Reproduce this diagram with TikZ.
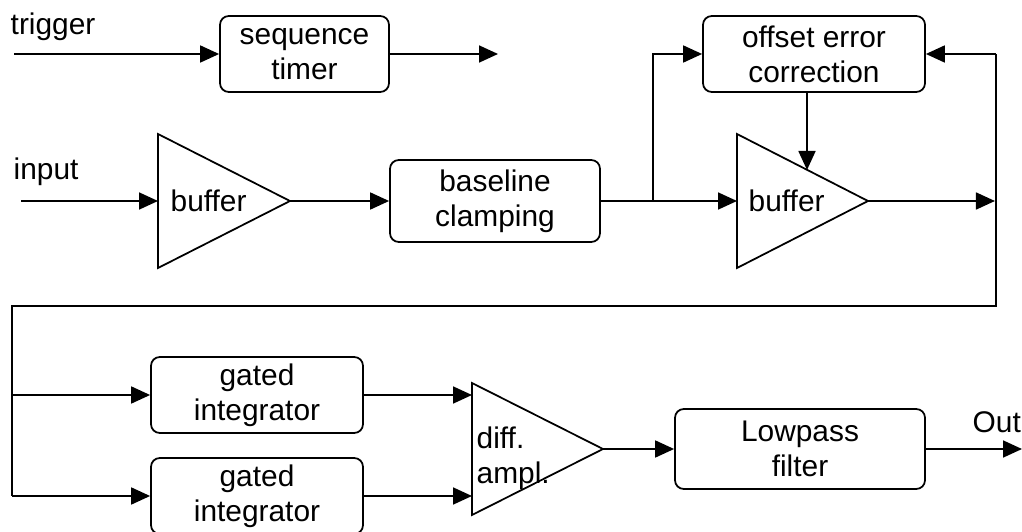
\documentclass[tikz,border=0pt]{standalone}
\usepackage{fontspec}
\setmainfont{Liberation Sans}
\usetikzlibrary{arrows.meta}

\begin{document}
\begin{tikzpicture}[
        blk/.style={draw, line width=0.5pt, rounded corners=2.5pt, align=center, inner sep=0,
                    font=\fontsize{8.5pt}{10pt}\selectfont},
        lbl/.style={inner sep=0, font=\fontsize{8.5pt}{10pt}\selectfont},
        wire/.style={line width=0.5pt},
        arr/.style={wire, -{Triangle[length=1.9mm,width=1.7mm]}},
        loopwire/.style={line width=0.75pt}
    ]
            \useasboundingbox (0,0) rectangle (10.22,5.31);
            % top row: sequence timer and offset correction
            \node [blk, minimum width=1.69cm, minimum height=0.76cm] (seq) at (3.045,4.77) {sequence\\timer};
            \node [blk, minimum width=2.22cm, minimum height=0.76cm] (off) at (8.14,4.77) {offset error\\correction};
            \node [lbl, anchor=base west] (trig) at (0.10,4.96) {trigger};
            \coordinate (trigin) at (0.14,4.77);
            \coordinate (seqout) at (4.98,4.77);
            \draw [arr] (trigin) -- (seq.west);
            \draw [arr] (seq.east) -- (seqout);
            % input buffer
            \draw [wire] (1.58,3.97) -- (2.90,3.30) -- (1.58,2.63) -- cycle;
            \coordinate (buf1in) at (1.58,3.30);
            \coordinate (buf1out) at (2.90,3.30);
            \node [lbl, anchor=base west] (buf1) at (1.70,3.19) {buffer};
            \node [lbl, anchor=base west] (inp) at (0.13,3.51) {input};
            \coordinate (inpin) at (0.21,3.30);
            \draw [arr] (inpin) -- (buf1in);
            % baseline clamping
            \node [blk, minimum width=2.10cm, minimum height=0.82cm] (base) at (4.95,3.30) {baseline\\clamping};
            \draw [arr] (buf1out) -- (base.west);
            % output buffer
            \draw [wire] (7.37,3.97) -- (8.68,3.30) -- (7.37,2.63) -- cycle;
            \coordinate (buf2in) at (7.37,3.30);
            \coordinate (buf2out) at (8.68,3.30);
            \coordinate (buf2top) at (8.07,3.61);
            \node [lbl, anchor=base west] (buf2) at (7.48,3.19) {buffer};
            \coordinate (split) at (6.53,3.30);
            \draw [arr] (base.east) -- (buf2in);
            \draw [arr] (split) |- (off.west);
            \draw [arr] (off.south -| buf2top) -- (buf2top);
            % feedback loop
            \coordinate (fbtop) at (9.96,4.77);
            \coordinate (fbright) at (9.96,2.25);
            \coordinate (fbleft) at (0.12,2.25);
            \draw [arr] (buf2out) -- ([xshift=-0.3pt]fbtop |- buf2out);
            \draw [loopwire] (fbtop) -- (fbright) -- (fbleft) -- (fbleft |- 0,0.35);
            \draw [arr] (fbtop) -- (off.east);
            % gated integrators
            \node [blk, minimum width=2.12cm, minimum height=0.76cm] (gi1) at (2.57,1.36) {gated\\integrator};
            \node [blk, minimum width=2.12cm, minimum height=0.76cm] (gi2) at (2.57,0.35) {gated\\integrator};
            \draw [arr] (fbleft |- gi1.west) -- (gi1.west);
            \draw [arr] (fbleft |- gi2.west) -- (gi2.west);
            % difference amplifier
            \draw [wire] (4.72,1.48) -- (6.03,0.82) -- (4.72,0.16) -- cycle;
            \coordinate (diffin) at (4.72,0.82);
            \coordinate (diffout) at (6.03,0.82);
            \node [lbl, anchor=west, align=left] (diff) at (4.76,0.73) {diff.\\ampl.};
            \draw [arr] (gi1.east) -- (gi1.east -| diffin);
            \draw [arr] (gi2.east) -- (gi2.east -| diffin);
            % lowpass and output
            \node [blk, minimum width=2.50cm, minimum height=0.80cm] (lp) at (8.00,0.82) {Lowpass\\filter};
            \draw [arr] (diffout) -- (lp.west);
            \coordinate (out) at (10.22,0.82);
            \draw [arr] (lp.east) -- (out);
            \node [lbl, anchor=base west] (outl) at (9.72,0.99) {Out};
\end{tikzpicture}
\end{document}
